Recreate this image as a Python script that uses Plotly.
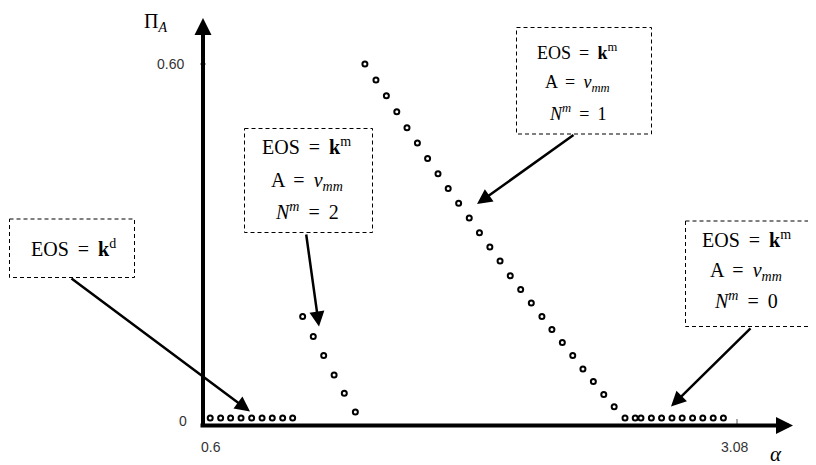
import plotly.graph_objects as go

# ---------------- data ----------------
alpha_kd = [0.601, 0.650, 0.697, 0.746, 0.796, 0.845, 0.893, 0.942, 0.989]
pi_kd = [0, 0, 0, 0, 0, 0, 0, 0, 0]

alpha_n2 = [1.036, 1.086, 1.135, 1.184, 1.232, 1.284]
pi_n2 = [0.172, 0.138, 0.106, 0.073, 0.042, 0.010]

alpha_n1 = [1.329, 1.381, 1.430, 1.479, 1.527, 1.576, 1.624, 1.673, 1.721,
            1.770, 1.820, 1.868, 1.917, 1.965, 2.013, 2.062, 2.112, 2.162,
            2.209, 2.258, 2.307, 2.355, 2.404, 2.453, 2.502, 2.553, 2.601]
pi_n1 = [0.600, 0.573, 0.546, 0.519, 0.492, 0.466, 0.440, 0.414, 0.389,
         0.364, 0.339, 0.314, 0.290, 0.266, 0.241, 0.218, 0.195, 0.172,
         0.150, 0.128, 0.106, 0.083, 0.062, 0.040, 0.019, 0.0, 0.0]

alpha_n0 = [2.628, 2.677, 2.725, 2.774, 2.822, 2.871, 2.919, 2.968, 3.016]
pi_n0 = [0, 0, 0, 0, 0, 0, 0, 0, 0]

x_tick_vals = [0.6, 3.08]
x_tick_text = ["0.6", "3.08"]
y_tick_vals = [0, 0.60]
y_tick_text = ["0", "0.60"]

EQ = " \u2009=\u2009 "
box_texts = [
    ["EOS" + EQ + "<b>k</b><sup>d</sup>"],
    ["EOS" + EQ + "<b>k</b><sup>m</sup>", "A" + EQ + "<i>v</i><sub><i>mm</i></sub>",
     "<i>N</i><sup><i>m</i></sup>" + EQ + "2"],
    ["EOS" + EQ + "<b>k</b><sup>m</sup>", "A" + EQ + "<i>v</i><sub><i>mm</i></sub>",
     "<i>N</i><sup><i>m</i></sup>" + EQ + "1"],
    ["EOS" + EQ + "<b>k</b><sup>m</sup>", "A" + EQ + "<i>v</i><sub><i>mm</i></sub>",
     "<i>N</i><sup><i>m</i></sup>" + EQ + "0"],
]

# ---------------- layout helpers (screen pixel -> data, for decorations) ----------------
PAGE_W, PAGE_H = 816, 465
BODY = 8  # default body margin of the html page
W, H = PAGE_W - BODY, PAGE_H - BODY


def X(px):
    return 0.6 + (px - 210) / 212.5


def Y(py):
    return (418 - py) / 590


SERIF = "Liberation Serif, Times New Roman, serif"
SANS = "Liberation Sans, Arial, sans-serif"

fig = go.Figure()
marker = dict(symbol="circle-open", size=5, color="black", line=dict(width=2, color="black"))
for xs, ys in [(alpha_kd, pi_kd), (alpha_n2, pi_n2), (alpha_n1, pi_n1), (alpha_n0, pi_n0)]:
    fig.add_trace(go.Scatter(x=xs, y=ys, mode="markers", marker=marker,
                             showlegend=False, hoverinfo="skip"))

annotations = []
shapes = []

# axes with arrowheads
axis_x = X(203)
axis_y = Y(425.5)
annotations.append(dict(x=axis_x, y=Y(18), xref="x", yref="y", ax=0, ay=409.5,
                        showarrow=True, arrowhead=2, arrowwidth=4, arrowsize=0.85,
                        arrowcolor="black", text="", standoff=0, startstandoff=0))
annotations.append(dict(x=X(793), y=axis_y, xref="x", yref="y", ax=-594, ay=0,
                        showarrow=True, arrowhead=2, arrowwidth=4, arrowsize=0.85,
                        arrowcolor="black", text="", standoff=0, startstandoff=0))

# ticks
shapes.append(dict(type="line", xref="x", yref="y", x0=X(200), x1=X(206),
                   y0=y_tick_vals[1], y1=y_tick_vals[1], line=dict(color="#555", width=1)))
shapes.append(dict(type="line", xref="x", yref="y", x0=x_tick_vals[1], x1=x_tick_vals[1],
                   y0=Y(419), y1=Y(424), line=dict(color="#555", width=1)))

# tick labels
tick_font = dict(family=SANS, size=14, color="#333")
annotations.append(dict(x=X(186), y=y_tick_vals[1], xref="x", yref="y", text=y_tick_text[1],
                        showarrow=False, xanchor="right", yanchor="middle", font=tick_font))
annotations.append(dict(x=X(189), y=y_tick_vals[0], xref="x", yref="y", text=y_tick_text[0],
                        showarrow=False, xanchor="right", yanchor="middle", yshift=-3, font=tick_font))
annotations.append(dict(x=x_tick_vals[0], y=Y(447), xref="x", yref="y", text=x_tick_text[0],
                        showarrow=False, xanchor="center", yanchor="middle", xshift=1, font=tick_font))
annotations.append(dict(x=x_tick_vals[1], y=Y(447), xref="x", yref="y", text=x_tick_text[1],
                        showarrow=False, xanchor="center", yanchor="middle", xshift=-3, font=tick_font))

# axis titles
annotations.append(dict(x=X(155), y=Y(8), xref="x", yref="y",
                        text="Π<sub><i>A</i></sub>", showarrow=False,
                        xanchor="center", yanchor="top",
                        font=dict(family=SERIF, size=20, color="black")))
annotations.append(dict(x=X(776), y=Y(454), xref="x", yref="y",
                        text="<i>α</i>", showarrow=False,
                        xanchor="center", yanchor="middle",
                        font=dict(family=SERIF, size=21, color="black")))

# callout boxes: (x0, y0, x1, y1) in px, text centre x, line centres y, font size
boxes = [
    ((9.5, 219, 134.5, 277.5), 73, [248], 20),
    ((244.5, 128.5, 372.5, 232.5), 306.5, [146, 181, 211], 20),
    ((516.5, 27.5, 651.5, 134), 577, [51, 83, 112], 18),
    ((685.5, 221, 813, 326.5), 746, [239, 271, 300], 20),
]
for (bx, cx, lines, fs), texts in zip(boxes, box_texts):
    shapes.append(dict(type="rect", xref="x", yref="y",
                       x0=X(bx[0]), x1=X(bx[2]), y0=Y(bx[1]), y1=Y(bx[3]),
                       line=dict(color="black", width=1, dash="4px,3px"),
                       fillcolor="rgba(0,0,0,0)"))
    for ty, t in zip(lines, texts):
        annotations.append(dict(x=X(cx), y=Y(ty), xref="x", yref="y", text=t,
                                showarrow=False, xanchor="center", yanchor="middle",
                                font=dict(family=SERIF, size=fs, color="black")))

# callout arrows: tip px, tail px
callouts = [
    ((250, 411.5), (70, 277.5)),
    ((319, 326.5), (306, 233)),
    ((477, 204), (575, 134)),
    ((671, 406.5), (752, 327)),
]
for (tx, ty), (sx, sy) in callouts:
    annotations.append(dict(x=X(tx), y=Y(ty), xref="x", yref="y",
                            ax=sx - tx, ay=sy - ty, showarrow=True,
                            arrowhead=2, arrowwidth=2.5, arrowsize=1.2,
                            arrowcolor="black", text="", standoff=0, startstandoff=0))

fig.update_layout(
    width=W, height=H,
    margin=dict(l=0, r=0, t=0, b=0, pad=0),
    paper_bgcolor="white", plot_bgcolor="white",
    xaxis=dict(range=[X(BODY), X(PAGE_W)], visible=False, fixedrange=True),
    yaxis=dict(range=[Y(PAGE_H), Y(BODY)], visible=False, fixedrange=True),
    annotations=annotations,
    shapes=shapes,
    showlegend=False,
)

fig.write_html("out.html")
